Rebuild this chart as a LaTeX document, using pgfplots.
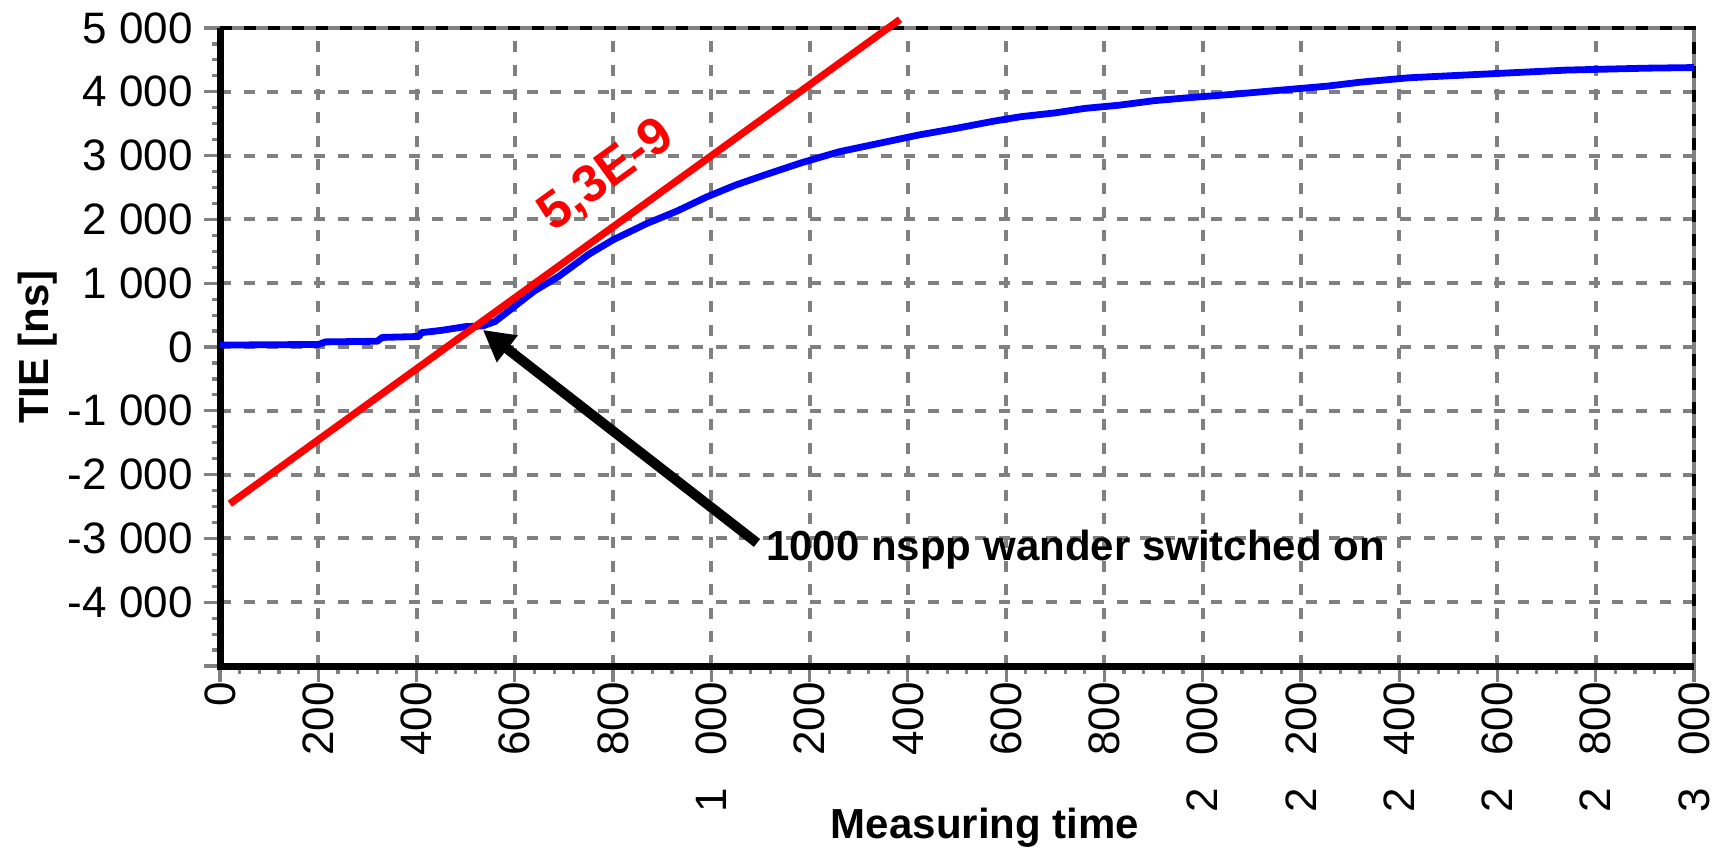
\documentclass[border=0pt]{standalone}
\usepackage{pgfplots}
\pgfplotsset{compat=1.18}
\usepackage{fontspec}
\setmainfont{Liberation Sans}
\usetikzlibrary{arrows.meta}
\definecolor{gridgray}{RGB}{128,128,128}
\definecolor{tieblue}{RGB}{0,0,255}
\definecolor{fitred}{RGB}{255,0,0}
\newcommand{\gap}{\hspace{16pt}}
\begin{document}
\begin{tikzpicture}
\useasboundingbox (0,0) rectangle (862pt,424pt);
\begin{axis}[
  at={(110pt,91pt)}, anchor=south west,
  scale only axis, width=737pt, height=319pt,
  xmin=0, xmax=3000, ymin=-5000, ymax=5000,
  clip=false,
  axis line style={draw=none},
  xtick={0,200,...,3000},
  xticklabels={0,200,400,600,800,1\gap000,1\gap200,1\gap400,1\gap600,1\gap800,2\gap000,2\gap200,2\gap400,2\gap600,2\gap800,3\gap000},
  ytick={-5000,-4000,...,5000},
  yticklabels={,-4 000,-3 000,-2 000,-1 000,0,1 000,2 000,3 000,4 000,5 000},
  minor x tick num=4, minor y tick num=3,
  tick pos=left, tick align=outside,
  major tick length=8pt, minor tick length=4pt,
  every tick/.style={gridgray, line width=1.6pt},
  grid=major,
  major grid style={gridgray, line width=2pt, dash pattern=on 5.5pt off 6.3pt},
  ticklabel style={font=\fontsize{22}{26}\selectfont, text=black},
  xticklabel style={rotate=90, anchor=east, inner sep=0pt},
  yticklabel style={anchor=east, inner sep=0pt, xshift=-5.5pt},
  xlabel={Measuring time},
  xlabel style={at={(rel axis cs:0.519,0)}, anchor=north, yshift=-53pt,
    fill=white, inner sep=0pt, minimum width=199pt, text height=33pt, text depth=5pt,
    font=\bfseries\fontsize{21}{25}\selectfont},
  ylabel={TIE [ns]},
  ylabel style={at={(rel axis cs:-0.1235,0.5)}, anchor=center,
    inner sep=0pt, font=\bfseries\fontsize{21}{25}\selectfont},
]
% plot frame
\draw[gridgray, line width=2pt] (rel axis cs:0,1) -- (rel axis cs:1,1) -- (rel axis cs:1,0);
\draw[black, line width=2pt, dash pattern=on 6pt off 6pt] (rel axis cs:0,1) -- (rel axis cs:1,1) -- (rel axis cs:1,0);
\draw[black, line width=3.5pt] (rel axis cs:1,0) -- (rel axis cs:0,0) -- (rel axis cs:0,1);

% TIE measurement
\addplot[tieblue, line width=3.4pt, line join=round, mark=none] coordinates {
(0,30) (200,40) (215,80) (320,90) (330,150) (405,165) (410,225) (450,260)
(500,320) (535,330) (560,400) (600,640) (640,880) (690,1110) (750,1450)
(800,1680) (870,1940) (930,2130) (990,2350) (1050,2540) (1110,2700)
(1180,2880) (1260,3060) (1340,3190) (1420,3320) (1500,3430) (1575,3540)
(1630,3610) (1700,3670) (1760,3740) (1830,3790) (1900,3860) (1975,3910)
(2060,3960) (2165,4030) (2255,4090) (2320,4150) (2420,4220) (2580,4280)
(2740,4340) (2900,4370) (3000,4380)
};
% fitted slope
\addplot[fitred, line width=3.6pt, mark=none] coordinates {(20,-2457) (1384,5134)};

\node[rotate=36, text=fitred, inner sep=0pt, font=\bfseries\fontsize{26}{30}\selectfont] at (axis cs:787,2680) {5,3E-9};
\draw[black, line width=5pt, -{Triangle[length=15.5pt,width=16pt]}] (axis cs:1093,-3071) -- (axis cs:535,268);
\node[anchor=base west, inner sep=0pt, font=\bfseries\fontsize{21}{25}\selectfont] at (axis cs:1111,-3354) {1000 nspp wander switched on};
\end{axis}
\end{tikzpicture}
\end{document}
